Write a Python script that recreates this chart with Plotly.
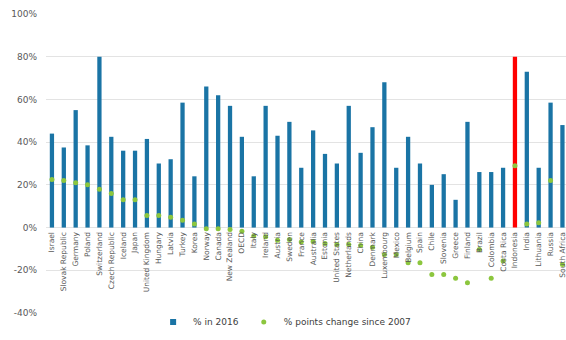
import plotly.graph_objects as go

countries = ["Israel", "Slovak Republic", "Germany", "Poland", "Switzerland", "Czech Republic",
             "Iceland", "Japan", "United Kingdom", "Hungary", "Latvia", "Turkey", "Korea",
             "Norway", "Canada", "New Zealand", "OECD", "Italy", "Ireland", "Austria", "Sweden",
             "France", "Australia", "Estonia", "United States", "Netherlands", "China", "Denmark",
             "Luxembourg", "Mexico", "Belgium", "Spain", "Chile", "Slovenia", "Greece", "Finland",
             "Brazil", "Colombia", "Costa Rica", "Indonesia", "India", "Lithuania", "Russia",
             "South Africa"]

share_2016 = [44, 37.5, 55, 38.5, 80, 42.5, 36, 36, 41.5, 30, 32, 58.5, 24, 66, 62, 57, 42.5,
              24, 57, 43, 49.5, 28, 45.5, 34.5, 30, 57, 35, 47, 68, 28, 42.5, 30, 20, 25, 13,
              49.5, 26, 26, 28, 80, 73, 28, 58.5, 48]

change_since_2007 = [22.5, 22, 21, 20, 18, 16, 13, 13, 5.7, 5.7, 4.8, 3.4, 1.7, -0.5, -0.5, -0.9,
                     -1.7, -4, -4.3, -5.9, -5.6, -6.7, -6.5, -7.5, -7.9, -7.9, -8.4, -9.2, -12.6,
                     -12.6, -16.5, -16.5, -22, -22, -23.7, -25.8, -10.3, -23.7, -15.7, 29, 1.7,
                     2.2, 22, -17.3]

highlight = "Indonesia"
blue = "#1a74a5"
green = "#8cc63e"
bar_colors = ["#ff0000" if c == highlight else blue for c in countries]

y_ticks = [100, 80, 60, 40, 20, 0, -20, -40]
y_tick_text = [f"{v}%" for v in y_ticks]

fig = go.Figure()
fig.add_trace(go.Bar(x=countries, y=share_2016, name="% in 2016", showlegend=False,
                     marker=dict(color=bar_colors, line=dict(width=0))))
fig.add_trace(go.Scatter(x=countries, y=change_since_2007, name="% points change since 2007",
                         mode="markers", marker=dict(color=green, size=5), showlegend=False))
# legend entries
fig.add_trace(go.Scatter(x=[None], y=[None], name="% in 2016", mode="markers",
                         marker=dict(color=blue, size=6, symbol="square")))
fig.add_trace(go.Scatter(x=[None], y=[None], name="% points change since 2007", mode="markers",
                         marker=dict(color=green, size=5)))

fig.update_layout(
    width=566, height=340,
    margin=dict(l=46, r=0, t=14, b=27),
    paper_bgcolor="white", plot_bgcolor="white",
    bargap=0.64,
    font=dict(family="DejaVu Sans", size=9, color="#595959"),
    showlegend=True,
    legend=dict(orientation="h", x=0.206, xanchor="left", y=-0.03, yanchor="middle",
                font=dict(size=9, color="#404040"), itemwidth=30, traceorder="normal"),
)
fig.update_yaxes(range=[-40, 100], tickvals=y_ticks, ticktext=y_tick_text,
                 showgrid=True, gridcolor="#e3e3e3", gridwidth=1,
                 zeroline=False, showline=False, ticks="", ticklabelstandoff=8,
                 tickfont=dict(size=9, color="#595959"))
fig.update_xaxes(type="category", range=[-0.5, 43.3], anchor="free", position=40/140,
                 tickangle=-90, tickfont=dict(size=7.5, color="#595959"),
                 showgrid=False, showline=False, zeroline=False, ticks="", ticklabelstandoff=2)

fig.write_html("out.html")
